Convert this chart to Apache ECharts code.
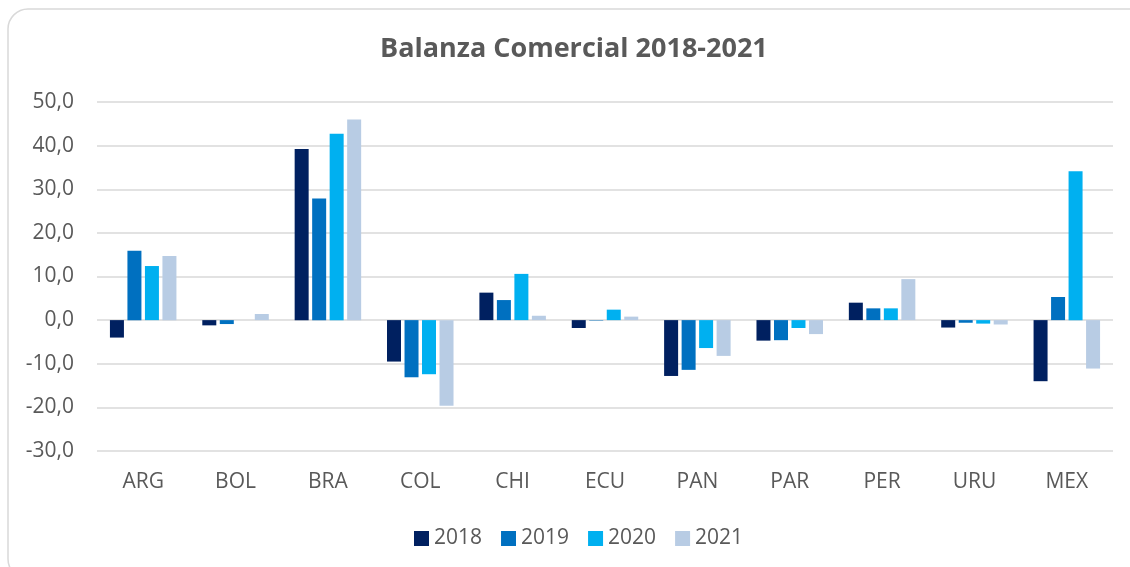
<!DOCTYPE html>
<html>
<head>
<meta charset="utf-8">
<script src="https://cdn.jsdelivr.net/npm/echarts@6/dist/echarts.min.js"></script>
<style>
  html, body { margin: 0; padding: 0; background: #fff; }
  #chart { width: 1130px; height: 567px; }
</style>
</head>
<body>
<div id="chart"></div>
<script>
// datos
const paises = ['ARG', 'BOL', 'BRA', 'COL', 'CHI', 'ECU', 'PAN', 'PAR', 'PER', 'URU', 'MEX'];
const anios = ['2018', '2019', '2020', '2021'];
const v2018 = [-4.0, -1.2, 39.2, -9.5, 6.3, -1.8, -12.8, -4.7, 4.0, -1.7, -14.0];
const v2019 = [15.9, -0.9, 27.9, -13.1, 4.6, -0.1, -11.4, -4.6, 2.7, -0.6, 5.3];
const v2020 = [12.4, 0.0, 42.7, -12.4, 10.6, 2.4, -6.4, -1.8, 2.7, -0.8, 34.1];
const v2021 = [14.7, 1.4, 46.0, -19.6, 1.0, 0.8, -8.2, -3.2, 9.4, -1.0, -11.1];
const colores = ['#002060', '#0070C0', '#00B0F0', '#B8CCE4'];

const chart = echarts.init(document.getElementById('chart'));
const fuente = 'Open Sans';

const option = {
    animation: false,
    color: colores,
    graphic: [
        {
            type: 'rect',
            shape: { x: 8, y: 9, width: 1140, height: 570, r: 20 },
            style: { fill: 'none', stroke: '#d9d9d9', lineWidth: 1.5 },
            silent: true
        }
    ],
    title: {
        text: 'Balanza Comercial 2018-2021',
        left: 375,
        top: 31,
        textStyle: {
            fontFamily: fuente,
            fontSize: 27,
            fontWeight: 'bold',
            color: '#595959'
        }
    },
    legend: {
        data: anios,
        top: 523,
        left: 409,
        itemWidth: 15,
        itemHeight: 15,
        itemGap: 19,
        icon: 'rect',
        textStyle: {
            fontFamily: fuente,
            fontSize: 21,
            color: '#595959'
        }
    },
    grid: {
        left: 97,
        right: 17,
        top: 102,
        bottom: 116,
        containLabel: false
    },
    xAxis: {
        type: 'category',
        data: paises,
        axisLine: { show: false },
        axisTick: { show: false },
        axisLabel: {
            margin: 21,
            fontFamily: fuente,
            fontSize: 21,
            color: '#595959'
        }
    },
    yAxis: {
        type: 'value',
        min: -30,
        max: 50,
        interval: 10,
        axisLine: { show: false },
        axisTick: { show: false },
        splitLine: { lineStyle: { color: '#d9d9d9', width: 1.5 } },
        axisLabel: {
            margin: 23,
            fontFamily: fuente,
            fontSize: 21,
            color: '#595959',
            formatter: v => v.toFixed(1).replace('.', ',')
        }
    },
    series: [v2018, v2019, v2020, v2021].map((d, i) => ({
        name: anios[i],
        type: 'bar',
        data: d,
        barWidth: 14,
        barGap: '25%'
    }))
};

chart.setOption(option);
</script>
</body>
</html>
